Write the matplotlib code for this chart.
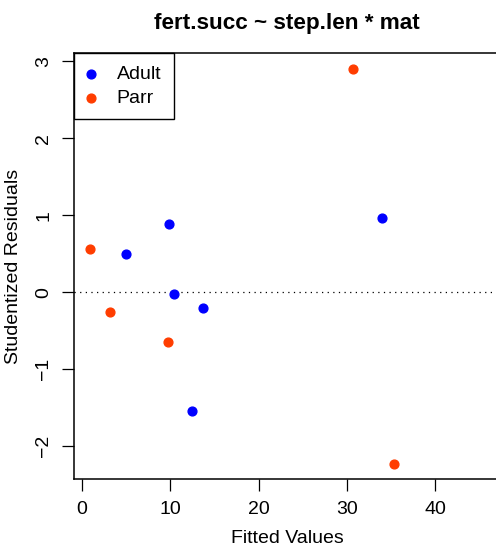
import matplotlib
matplotlib.use('Agg')
import matplotlib.pyplot as plt

# fitted values / studentized residuals
adultFitted = [5.0, 9.8, 10.4, 13.7, 12.5, 33.9]
adultResid = [0.50, 0.89, -0.02, -0.21, -1.55, 0.97]
parrFitted = [0.9, 3.2, 9.7, 30.7, 35.3]
parrResid = [0.56, -0.26, -0.65, 2.90, -2.23]
xticks = [0, 10, 20, 30, 40]
yticks = [-2, -1, 0, 1, 2, 3]


def main():
    plt.rcParams['font.family'] = ['Liberation Sans', 'DejaVu Sans']
    fig = plt.figure(figsize=(4.96, 5.46), dpi=100)
    W, H = 496, 546
    ax = fig.add_axes([74/W, (H-479)/H, (500-74)/W, (479-53)/H])

    ax.scatter(adultFitted, adultResid, s=40, color='blue', label='Adult', zorder=3)
    ax.scatter(parrFitted, parrResid, s=40, color='#ff3d00', label='Parr', zorder=3)
    ax.axhline(0, color='black', lw=0.9, linestyle=(0, (1, 3.5)))

    ax.set_xlim(-0.9, 47.3)
    ax.set_ylim(-2.43, 3.11)
    ax.set_xticks(xticks)
    ax.set_yticks(yticks)
    ax.set_yticklabels([str(v).replace('-', '\u2212') for v in yticks],
                       rotation=90, va='center')
    ax.tick_params(length=8.5, width=0.9, labelsize=14, pad=7)
    for sp in ax.spines.values():
        sp.set_linewidth(1.1)

    ax.set_xlabel('Fitted Values', fontsize=14, labelpad=9)
    ax.set_ylabel('Studentized Residuals', fontsize=14, labelpad=10)
    fig.suptitle('fert.succ ~ step.len * mat', fontsize=16.2, fontweight='bold',
                 x=287/W, y=1-24/H, va='center')

    leg = ax.legend(loc='upper left', bbox_to_anchor=(0, 1), borderaxespad=0,
                    fancybox=False, framealpha=1, edgecolor='black', fontsize=14,
                    borderpad=0.65, handlelength=0.4, handletextpad=1.15,
                    labelspacing=0.3, scatterpoints=1)
    leg.get_frame().set_linewidth(1.0)

    fig.savefig('out.png', dpi=100)


if __name__ == '__main__':
    main()
